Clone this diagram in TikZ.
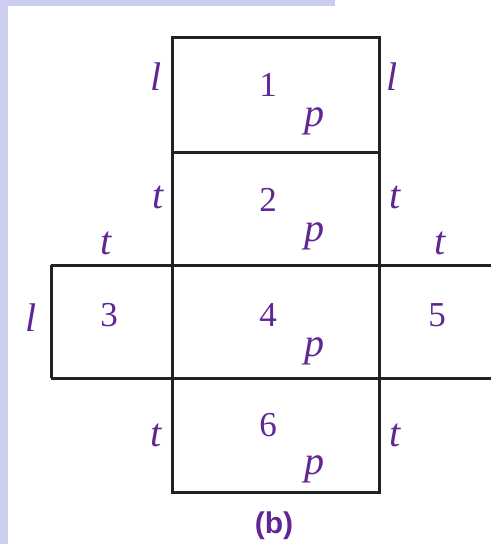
\documentclass[tikz,border=0pt]{standalone}
\usepackage{fontspec}
\setmainfont{Liberation Serif}
\newfontfamily\capfont{Liberation Sans}
\definecolor{labelpurple}{RGB}{98,38,148}
\definecolor{edgegrey}{RGB}{34,34,34}
\definecolor{stripblue}{RGB}{205,205,240}
\tikzset{face/.style = {draw = edgegrey, line width = 3pt, line join = miter}}
\tikzset{side/.style = {text = labelpurple, inner sep = 0pt, font = \fontsize{40}{44}\selectfont\itshape}}
\tikzset{num/.style = {text = labelpurple, inner sep = 0pt, font = \fontsize{35}{40}\selectfont}}
\tikzset{caption/.style = {text = labelpurple, inner sep = 0pt, font = \fontsize{30}{34}\selectfont\capfont\bfseries}}

\begin{document}
\begin{tikzpicture}[x = 1pt, y = -1pt]
	\useasboundingbox (0, 0) rectangle (491, 544);
	\fill[stripblue] (0, 0) rectangle (8, 544);
	\fill[stripblue] (0, 0) rectangle (335, 6);

	% the net
	\draw[face] (172, 37) rectangle (379, 492);
	\draw[face] (172, 152) -- (379, 152);
	\draw[face] (51, 265) -- (491, 265);
	\draw[face] (51, 378) -- (491, 378);
	\draw[face] (51, 265) -- (51, 378);

	% faces
	\node[num] (n1) at (268, 85) {1};
	\node[num] (n2) at (268, 200) {2};
	\node[num] (n3) at (109, 315) {3};
	\node[num] (n4) at (268, 315) {4};
	\node[num] (n5) at (437, 315) {5};
	\node[num] (n6) at (268, 425) {6};

	\node[side] (p1) at (314, 121) {p};
	\node[side] (p2) at (314, 236) {p};
	\node[side] (p4) at (314, 351) {p};
	\node[side] (p6) at (314, 469) {p};

	% edge lengths
	\node[side] (l1) at (156, 77) {l};
	\node[side] (l2) at (392, 77) {l};
	\node[side] (l3) at (31, 318) {l};
	\node[side] (t1) at (158, 197) {t};
	\node[side] (t2) at (395, 197) {t};
	\node[side] (t3) at (106, 243) {t};
	\node[side] (t4) at (440, 243) {t};
	\node[side] (t5) at (156, 435) {t};
	\node[side] (t6) at (395, 435) {t};

	\node[caption] (cap) at (274, 526) {(b)};
\end{tikzpicture}
\end{document}
